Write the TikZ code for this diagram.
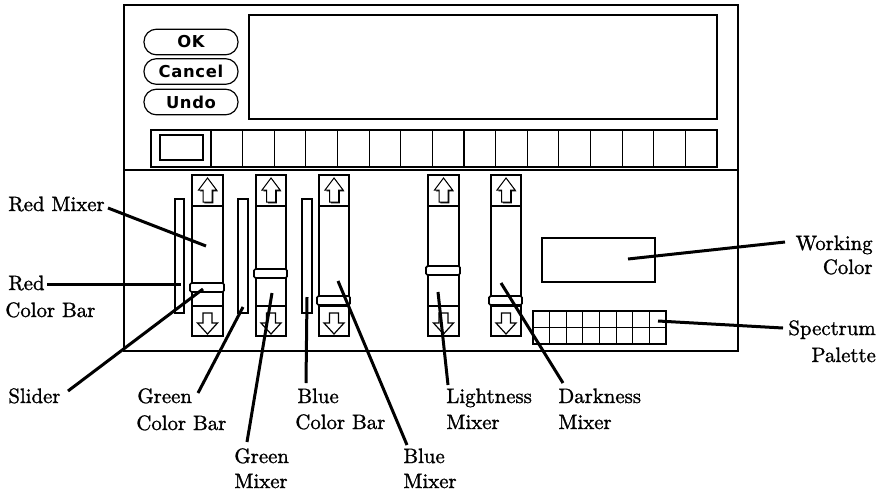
\documentclass[tikz,border=0pt]{standalone}
\usepackage{fontspec}
\newfontfamily\lblfont{Latin Modern Roman}[FakeBold=1.3]
\newfontfamily\chicago{DejaVu Sans}[LetterSpace=4]
\tikzset{
  thinbox/.style={draw, line width=0.6pt},
  frame/.style={draw, line width=1.2pt},
  thumb/.style={draw, fill=white, line width=0.8pt, rounded corners=0.8pt},
  leader/.style={draw, line width=1.5pt},
  lbl/.style={inner sep=0pt, font=\lblfont\fontsize{10.4}{12}\selectfont},
  btn/.style={draw, line width=0.6pt, rounded corners=6.2pt, minimum width=47pt,
    minimum height=12.8pt, inner sep=0pt, font=\chicago\bfseries\fontsize{8.2}{10}\selectfont},
}
\begin{document}
\begin{tikzpicture}[x=0.5pt,y=-0.5pt]
\useasboundingbox (0,0) rectangle (886,493);
% window
\draw[frame] (124,5) rectangle (738,351);
\draw[line width=1pt] (124,170) -- (738,170);
% buttons
\node[btn] (ok) at (191,42) {OK};
\node[btn] (cancel) at (191,71.5) {Cancel};
\node[btn] (undo) at (191,102) {Undo};
% display
\draw[thinbox] (249,15) rectangle (717,119);
% swatch row
\draw[thinbox] (151,130) rectangle (717,167);
\draw[line width=0.8pt] (160,135) rectangle (203,160);
\foreach \k in {0,...,15} {
  \draw[line width=0.6pt] ({211+\k*31.625},130) -- ({211+\k*31.625},167);
}
% color bars
\foreach \xl/\xr in {175/184, 238/248, 302/312} {
  \draw[thinbox] (\xl,199) rectangle (\xr,313);
}
% mixers
\foreach \xl/\xr/\t in {192/223/283, 256/286/269, 319/349/296, 428/459/266, 491/521/296} {
  \pgfmathsetmacro\cx{(\xl+\xr)/2}
  \draw[thinbox] (\xl,175) rectangle (\xr,336);
  \draw[line width=0.6pt] (\xl,206) -- (\xr,206);
  \draw[line width=0.6pt] (\xl,306) -- (\xr,306);
  \fill[shift={(\cx+1.4,176.4)}] (0,3) -- (9,15) -- (4.5,15) -- (4.5,27) -- (-4.5,27) -- (-4.5,15) -- (-9,15) -- cycle;
  \filldraw[fill=white, line width=0.5pt, shift={(\cx,175)}] (0,3) -- (9,15) -- (4.5,15) -- (4.5,27) -- (-4.5,27) -- (-4.5,15) -- (-9,15) -- cycle;
  \filldraw[fill=white, line width=0.6pt, shift={(\cx,306)}] (-4.5,7) -- (4.5,7) -- (4.5,17) -- (10,17) -- (0,28) -- (-10,17) -- (-4.5,17) -- cycle;
  \draw[thumb] (\xl-2,\t) rectangle (\xr+1,\t+9);
}
% working colour and spectrum palette
\draw[thinbox] (542,238) rectangle (655,282);
\draw[thinbox] (533,311) rectangle (666,344);
\draw[line width=0.6pt] (533,327.5) -- (666,327.5);
\foreach \k in {1,...,7} {
  \draw[line width=0.6pt] ({533+\k*16.625},311) -- ({533+\k*16.625},344);
}
% labels
\node[lbl, anchor=base west] (redmixer) at (8,211) {Red Mixer};
\node[lbl, anchor=base west] (redcb1) at (8,290) {Red};
\node[lbl, anchor=base west] (redcb2) at (5,317) {Color Bar};
\node[lbl, anchor=base west] (slider) at (8,403) {Slider};
\node[lbl, anchor=base west] (greencb1) at (137,403) {Green};
\node[lbl, anchor=base west] (greencb2) at (136,430) {Color Bar};
\node[lbl, anchor=base west] (greenmx1) at (234,463) {Green};
\node[lbl, anchor=base west] (greenmx2) at (234,488) {Mixer};
\node[lbl, anchor=base west] (bluecb1) at (297,403) {Blue};
\node[lbl, anchor=base west] (bluecb2) at (295,429) {Color Bar};
\node[lbl, anchor=base west] (bluemx1) at (403,463) {Blue};
\node[lbl, anchor=base west] (bluemx2) at (403,488) {Mixer};
\node[lbl, anchor=base west] (light1) at (446,403) {Lightness};
\node[lbl, anchor=base west] (light2) at (446,429) {Mixer};
\node[lbl, anchor=base west] (dark1) at (558,403) {Darkness};
\node[lbl, anchor=base west] (dark2) at (558,429) {Mixer};
\node[lbl, anchor=base east] (work1) at (873,250) {Working};
\node[lbl, anchor=base east] (work2) at (873,274) {Color};
\node[lbl, anchor=base west] (spec1) at (788,335) {Spectrum};
\node[lbl, anchor=base west] (spec2) at (811,362) {Palette};
% leader end points
\coordinate (rmA) at (108,208);  \coordinate (rmB) at (206,246);
\coordinate (rcA) at (47,284);   \coordinate (rcB) at (181,284);
\coordinate (slA) at (68,391);   \coordinate (slB) at (203,289);
\coordinate (gcA) at (198,393);  \coordinate (gcB) at (243,307);
\coordinate (gmA) at (247,442);  \coordinate (gmB) at (272,293);
\coordinate (bcA) at (306,383);  \coordinate (bcB) at (307,297);
\coordinate (bmA) at (407,445);  \coordinate (bmB) at (338,281);
\coordinate (lmA) at (448,385);  \coordinate (lmB) at (438,292);
\coordinate (dmA) at (563,383);  \coordinate (dmB) at (501,283);
\coordinate (wcA) at (785,242);  \coordinate (wcB) at (628,259);
\coordinate (spA) at (783,328);  \coordinate (spB) at (658,321);
% leaders
\foreach \a/\b in {rmA/rmB, rcA/rcB, slA/slB, gcA/gcB, gmA/gmB, bcA/bcB, bmA/bmB, lmA/lmB, dmA/dmB, wcA/wcB, spA/spB} {
  \draw[leader] (\a) -- (\b);
}
\end{tikzpicture}
\end{document}
